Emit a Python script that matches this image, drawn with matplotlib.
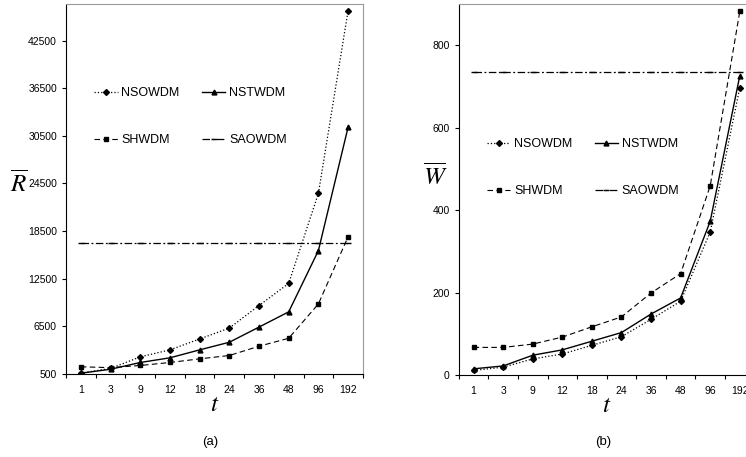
import matplotlib.pyplot as plt

plt.rcParams['font.family'] = ['Liberation Sans', 'DejaVu Sans']

# categories on the x axis
t_labels = ['1', '3', '9', '12', '18', '24', '36', '48', '96', '192']

# panel (a): average R
r_nsowdm = [620, 1200, 2660, 3540, 4910, 6290, 9125, 11910, 23250, 46250]
r_nstwdm = [600, 1100, 1950, 2540, 3540, 4500, 6410, 8330, 16040, 31580]
r_shwdm = [1410, 1300, 1575, 1950, 2410, 2830, 4000, 5000, 9325, 17790]
r_saowdm = [17000] * 10

# panel (b): average W
w_nsowdm = [11, 19, 39, 51, 72, 93, 135, 179, 347, 697]
w_nstwdm = [15, 22, 48, 61, 82, 103, 148, 187, 373, 726]
w_shwdm = [67, 67, 75, 92, 117, 141, 199, 246, 459, 882]
w_saowdm = [734] * 10

fig = plt.figure(figsize=(7.46, 4.57), dpi=100)
ax_a = fig.add_axes([0.0885, 0.1816, 0.398, 0.8096])
ax_b = fig.add_axes([0.615, 0.1794, 0.3965, 0.8118])

x = list(range(len(t_labels)))


def draw(ax, nso, nst, shw, sao, anchor):
    l1, = ax.plot(x, nso, color='black', ls=':', lw=0.9, marker='D', ms=3, label='NSOWDM')
    l2, = ax.plot(x, nst, color='black', ls='-', lw=1.0, marker='^', ms=3.5, label='NSTWDM')
    l3, = ax.plot(x, shw, color='black', ls=(0, (5, 3)), lw=0.8, marker='s', ms=3.5, label='SHWDM')
    l4, = ax.plot(x, sao, color='black', ls=(0, (6, 2, 1.5, 2)), lw=0.9, marker='_', ms=4,
                  label='SAOWDM')
    ax.set_xlim(-0.5, 9.5)
    ax.set_xticks(x)
    ax.set_xticklabels(t_labels)
    ax.set_xticks([i - 0.5 for i in range(11)], minor=True)
    ax.tick_params(axis='x', which='major', length=0, pad=8, labelsize=7.5)
    ax.tick_params(axis='x', which='minor', length=3, direction='out', width=0.8)
    ax.tick_params(axis='y', length=3, direction='out', labelsize=7.5, width=0.8)
    ax.spines['top'].set_color('#999999')
    ax.spines['right'].set_color('#999999')
    ax.set_xlabel('$t$', fontsize=18, labelpad=-2, math_fontfamily='stix')
    # row-wise legend: NSOWDM NSTWDM / SHWDM SAOWDM
    ax.legend([l1, l3, l2, l4], ['NSOWDM', 'SHWDM', 'NSTWDM', 'SAOWDM'],
              loc='upper left', bbox_to_anchor=anchor, ncol=2, frameon=False,
              fontsize=9, handlelength=1.85, handletextpad=0.3, columnspacing=1.8,
              labelspacing=2.8)


draw(ax_a, r_nsowdm, r_nstwdm, r_shwdm, r_saowdm, (0.058, 0.806))
ax_a.set_ylim(500, 47100)
ax_a.set_yticks([500, 6500, 12500, 18500, 24500, 30500, 36500, 42500])
fig.text(0.025, 0.6, r'$\overline{R}$', fontsize=18, ha='center', va='center',
         math_fontfamily='stix')
fig.text(0.282, 0.033, '(a)', fontsize=9.5, ha='center', va='center')

draw(ax_b, w_nsowdm, w_nstwdm, w_shwdm, w_saowdm, (0.058, 0.668))
ax_b.set_ylim(0, 900)
ax_b.set_yticks([0, 200, 400, 600, 800])
fig.text(0.584, 0.615, r'$\overline{W}$', fontsize=18, ha='center', va='center',
         math_fontfamily='stix')
fig.text(0.808, 0.033, '(b)', fontsize=9.5, ha='center', va='center')

fig.savefig('out.png', dpi=100)
